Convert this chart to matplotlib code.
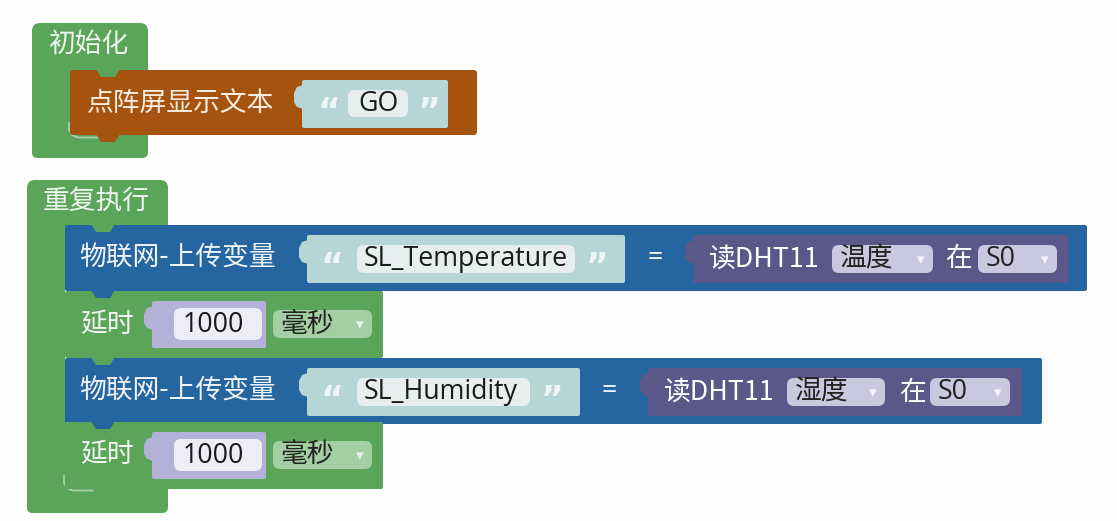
import matplotlib
matplotlib.use("Agg")
import matplotlib.pyplot as plt
from matplotlib.patches import FancyBboxPatch, Polygon

# block texts
INIT_TITLE = "初始化"
LOOP_TITLE = "重复执行"
MATRIX_LABEL = "点阵屏显示文本"
MATRIX_TEXT = "GO"
UPLOAD_LABEL = "物联网-上传变量"
UPLOAD_VARS = ["SL_Temperature", "SL_Humidity"]
SENSOR_LABEL = "读DHT11"
SENSOR_MODES = ["温度", "湿度"]
SENSOR_PINS = ["S0", "S0"]
PIN_WORD = "在"
DELAY_LABEL = "延时"
DELAY_VALUES = [1000, 1000]
DELAY_UNITS = ["毫秒", "毫秒"]

GREEN = "#5ba55b"
GREEN_DD = "#a3cfa3"
ORANGE = "#a5530f"
BLUE = "#2565a0"
TEXT_IN = "#b5d6d4"
TEXT_FIELD = "#e6efed"
NUM_IN = "#b4b1d8"
NUM_FIELD = "#eeedf6"
PURPLE = "#5b5789"
PURPLE_DD = "#cac8df"

CJK = ["Noto Sans CJK SC", "DejaVu Sans"]
LAT = ["Open Sans", "DejaVu Sans"]
FS = 19.3

fig = plt.figure(figsize=(11.17, 5.21), dpi=100)
ax = fig.add_axes([0, 0, 1, 1])
ax.set_xlim(0, 1117)
ax.set_ylim(521, 0)
ax.axis("off")
fig.patch.set_facecolor("#fdfdfd")


def rbox(x0, y0, x1, y1, color, r=4, z=1):
    p = FancyBboxPatch((x0 + r, y0 + r), x1 - x0 - 2 * r, y1 - y0 - 2 * r,
                       boxstyle=f"round,pad={r}", fc=color, ec="none", zorder=z)
    ax.add_patch(p)


def tab_down(x, y, color, z=3):
    # statement connector bump below a block
    ax.add_patch(Polygon([(x + 26, y - 1), (x + 31, y + 7), (x + 45, y + 7), (x + 50, y - 1)],
                         closed=True, fc=color, ec="none", zorder=z))


def tab_left(x, y, color, z=3):
    # value connector on the left side of an input
    ax.add_patch(Polygon([(x + 1, y + 5), (x - 5, y + 7), (x - 8, y + 13), (x - 8, y + 22),
                          (x - 5, y + 27), (x + 1, y + 29)],
                         closed=True, fc=color, ec="none", zorder=z))


def txt(x, y, s, color="white", fam=CJK, size=FS, z=6, ha="left", weight="normal"):
    ax.text(x, y, s, color=color, fontsize=size, family=fam, ha=ha, va="center",
            zorder=z, fontweight=weight)


def quotes(xl, xr, yc):
    txt(xl, yc + 9, "“", color="#eef5f4", fam=["DejaVu Sans"], size=25, ha="center", weight="bold")
    txt(xr, yc + 9, "”", color="#eef5f4", fam=["DejaVu Sans"], size=25, ha="center", weight="bold")


def dropdown(x0, x1, yc, s, bg, fg="#222222", arrow="#f2f2f2"):
    rbox(x0, yc - 14, x1, yc + 14, bg, r=7, z=5)
    fam = LAT if s.isascii() else CJK
    txt(x0 + 8, yc, s, color=fg, fam=fam)
    txt(x1 - 12, yc + 1, "▾", color=arrow, fam=["DejaVu Sans"], size=11, ha="center")


def text_input(x0, x1, y, s, fx0, fx1):
    tab_left(x0, y, TEXT_IN)
    rbox(x0, y, x1, y + 48, TEXT_IN, r=2, z=4)
    rbox(fx0, y + 10, fx1, y + 38, TEXT_FIELD, r=7, z=5)
    quotes(x0 + 25, fx1 + 22, y + 24)
    txt(fx0 + 7, y + 24, s, color="#1a1a1a", fam=LAT)


def sensor(x0, x1, y, mode, pin, dd0, dd1, zai, pd0, pd1):
    tab_left(x0, y, PURPLE)
    rbox(x0, y, x1, y + 48, PURPLE, r=2, z=4)
    txt(x0 + 16, y + 24, SENSOR_LABEL)
    dropdown(dd0, dd1, y + 24, mode, PURPLE_DD, arrow="#f4f4f8")
    txt(zai, y + 24, PIN_WORD)
    dropdown(pd0, pd1, y + 24, pin, PURPLE_DD, arrow="#f4f4f8")


def delay(y, value, unit):
    txt(80, y + 33, DELAY_LABEL, color="#f2f7f2")
    tab_left(152, y + 10, NUM_IN)
    rbox(152, y + 10, 266, y + 57, NUM_IN, r=2, z=4)
    rbox(174, y + 17, 262, y + 49, NUM_FIELD, r=7, z=5)
    txt(213, y + 34, str(value), color="#1a1a1a", fam=LAT, ha="center")
    dropdown(273, 372, y + 33, unit, GREEN_DD, arrow="#e8f3e8")


def mouth_highlight(x, y):
    # light edge where the C-shaped container turns under its last child
    ax.plot([x - 1, x - 1, x + 2, x + 8, x + 38], [y - 12, y - 5, y, y + 2.5, y + 2.5],
            color="#eaf4ea", lw=1.3, alpha=0.55, zorder=1.5)


# ---- 初始化 container ----
rbox(32, 23, 148, 80, GREEN, r=8, z=1)
rbox(32, 40, 70, 158, GREEN, r=6, z=1)
rbox(32, 128, 148, 158, GREEN, r=6, z=1)
txt(48, 44, INIT_TITLE, color="#eef6ee")

rbox(70, 70, 477, 135, ORANGE, r=3, z=2)
tab_down(70, 70, GREEN)
tab_down(70, 135, ORANGE)
txt(87, 103, MATRIX_LABEL, color="#fbeee2")
tab_left(302, 80, TEXT_IN)
rbox(302, 80, 448, 128, TEXT_IN, r=2, z=4)
rbox(348, 90, 408, 117, TEXT_FIELD, r=7, z=5)
quotes(329, 429, 104)
txt(378, 104, MATRIX_TEXT, color="#1a1a1a", fam=LAT, ha="center")
mouth_highlight(70, 135)

# ---- 重复执行 container ----
rbox(27, 180, 168, 235, GREEN, r=8, z=1)
rbox(27, 200, 65, 513, GREEN, r=6, z=1)
rbox(27, 480, 168, 513, GREEN, r=6, z=1)
txt(43, 201, LOOP_TITLE, color="#eef6ee")

rows = [225, 358]
delays = [291, 422]
ends = [1087, 1042]
for i in range(2):
    y = rows[i]
    rbox(65, y, ends[i], y + 66, BLUE, r=2, z=2)
    rbox(65, delays[i], 383, delays[i] + 67, GREEN, r=2, z=2)
    txt(79, y + 33, UPLOAD_LABEL, color="#f1f5fa")

# upload rows
text_input(307, 625, 235, UPLOAD_VARS[0], 357, 575)
txt(655, 258, "=", color="#f1f5fa", fam=LAT, ha="center")
sensor(693, 1068, 235, SENSOR_MODES[0], SENSOR_PINS[0], 832, 933, 945, 978, 1057)

text_input(307, 580, 368, UPLOAD_VARS[1], 357, 530)
txt(609, 391, "=", color="#f1f5fa", fam=LAT, ha="center")
sensor(648, 1022, 368, SENSOR_MODES[1], SENSOR_PINS[1], 787, 885, 899, 930, 1010)

delay(291, DELAY_VALUES[0], DELAY_UNITS[0])
delay(422, DELAY_VALUES[1], DELAY_UNITS[1])

# connector bumps
tab_down(65, 225, GREEN)
tab_down(65, 291, BLUE)
tab_down(65, 358, GREEN)
tab_down(65, 422, BLUE)
tab_down(65, 488, GREEN)
mouth_highlight(65, 488)

fig.savefig("out.png", dpi=100, facecolor=fig.get_facecolor())
